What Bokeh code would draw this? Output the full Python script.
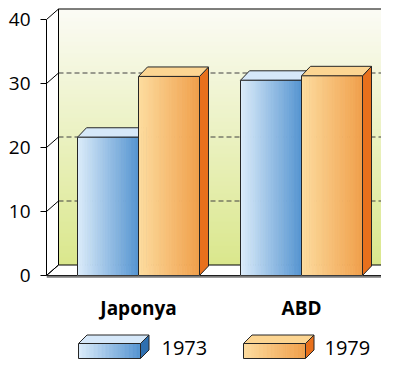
from bokeh.plotting import figure
from bokeh.models import Range1d, FixedTicker
from bokeh.core.properties import value
from bokeh.embed import file_html
from bokeh.resources import INLINE

# ---------------- data ----------------
categories = ["Japonya", "ABD"]
series = ["1973", "1979"]
values_1973 = [21.6, 30.5]
values_1979 = [31.1, 31.2]
y_ticks = [0, 10, 20, 30, 40]
y_top = 40

# ---------------- layout constants (pixels) ----------------
W, H = 381, 359
LEFT = 46          # left border holding the value axis
PX_X = 163.0       # px per category step
PX_Y = 6.4         # px per value unit
ZERO_PX = 275      # value 0, px from the frame top
CAT0_PX = 92       # first category centre, px from the frame left
WALL_DX, WALL_DY = 12, 10.5
BAR_DX, BAR_DY = 9, 9.5
BAR_W_PX = 61
LEG_SHIFT = 15     # legend moved up to fit the window

x_start = -CAT0_PX / PX_X
x_end = x_start + (W - LEFT) / PX_X
y_end = ZERO_PX / PX_Y
y_start = -(H - ZERO_PX) / PX_Y


def ux(px):
    return px / PX_X


def uy(px):
    return px / PX_Y


def fx(px):  # page px -> x
    return x_start + (px - LEFT) / PX_X


def fy(px):  # page px from top -> y
    return y_end - px / PX_Y


def hex2rgb(h):
    h = h.lstrip("#")
    return tuple(int(h[i:i + 2], 16) for i in (0, 2, 4))


def mix(c1, c2, t):
    a, b = hex2rgb(c1), hex2rgb(c2)
    return "#%02x%02x%02x" % tuple(int(round(a[i] + (b[i] - a[i]) * t)) for i in range(3))


p = figure(width=W, height=H, x_range=Range1d(x_start, x_end), y_range=Range1d(y_start, y_end),
           x_axis_type=None, toolbar_location=None, output_backend="svg",
           min_border_left=LEFT, min_border_right=0, min_border_top=0, min_border_bottom=0)
p.outline_line_color = None
p.grid.visible = False
p.background_fill_color = "white"

# ---------------- back wall with vertical gradient ----------------
wx0 = x_start + ux(WALL_DX)
wy0 = uy(WALL_DY)
floor_right = fx(385)
n = 64
step = y_top / n
wall_cols = [mix("#dae78c", "#fbfbf5", (i + 0.5) / n) for i in range(n)]
p.quad(left=[wx0] * n, right=[x_end + 1] * n,
       bottom=[wy0 + i * step for i in range(n)],
       top=[wy0 + (i + 1) * step for i in range(n)],
       fill_color=wall_cols, line_color=wall_cols, line_width=1)

# floor
p.patch([x_start, floor_right, floor_right + ux(WALL_DX), wx0],
        [0, 0, wy0, wy0], fill_color="white", line_color="black", line_width=1)

# dashed grid on back wall
grid_vals = [t for t in y_ticks if 0 < t < y_top]
p.segment(x0=[wx0] * len(grid_vals), y0=[t + wy0 for t in grid_vals],
          x1=[x_end + 1] * len(grid_vals), y1=[t + wy0 for t in grid_vals],
          line_color="#404040", line_width=1, line_dash="5 3")

# wall edges
p.line([wx0, wx0, x_end + 1], [wy0, y_top + wy0, y_top + wy0], line_color="black", line_width=1)

# diagonals from axis ticks to wall
p.segment(x0=[x_start] * len(y_ticks), y0=y_ticks,
          x1=[wx0] * len(y_ticks), y1=[t + wy0 for t in y_ticks],
          line_color="black", line_width=1)

# ---------------- bars ----------------
styles = {
    "1973": dict(left="#ddedfb", right="#5594d1", top="#d6e8f9", side="#2e6fb0"),
    "1979": dict(left="#fddda0", right="#f09f4b", top="#fcd592", side="#e8701c"),
}
bw = ux(BAR_W_PX)
bdx, bdy = ux(BAR_DX), uy(BAR_DY)
outline = "#262626"


def gradient_rect(x0, x1, y0, y1, c_left, c_right, nstrip):
    sw = (x1 - x0) / nstrip
    cols = [mix(c_left, c_right, (k + 0.5) / nstrip) for k in range(nstrip)]
    p.quad(left=[x0 + k * sw for k in range(nstrip)],
           right=[x0 + (k + 1) * sw for k in range(nstrip)],
           bottom=[y0] * nstrip, top=[y1] * nstrip,
           fill_color=cols, line_color=cols, line_width=0.8)
    p.quad(left=[x0], right=[x1], bottom=[y0], top=[y1], fill_color=None,
           line_color=outline, line_width=1)


def bar3d(x0, v, st):
    x1 = x0 + bw
    p.patch([x1, x1, x1 + bdx, x1 + bdx], [0, v, v + bdy, bdy],
            fill_color=st["side"], line_color=outline, line_width=1)
    p.patch([x0, x0 + bdx, x1 + bdx, x1], [v, v + bdy, v + bdy, v],
            fill_color=st["top"], line_color=outline, line_width=1)
    gradient_rect(x0, x1, 0, v, st["left"], st["right"], 24)


for i, cat in enumerate(categories):
    bar3d(i - bw, values_1973[i], styles["1973"])
    bar3d(i, values_1979[i], styles["1979"])

# floor front edge
p.line([x_start, floor_right], [-uy(1.2), -uy(1.2)], line_color="#7a7a7a", line_width=2)

# ---------------- category labels ----------------
p.text(x=list(range(len(categories))), y=[fy(307)] * len(categories), text=categories,
       text_font=value("Open Sans"), text_font_style="bold", text_font_size="19px",
       text_align="center", text_baseline="middle", text_color="black")

# ---------------- legend (3D keys) ----------------
key_left_px = [78, 243]
key_w = ux(62)
key_h = uy(15)
key_bottom = fy(373 - LEG_SHIFT)
kdx, kdy = ux(8.5), uy(8.5)
for s, lp in zip(series, key_left_px):
    st = styles[s]
    x0 = fx(lp)
    x1 = x0 + key_w
    y0, y1 = key_bottom, key_bottom + key_h
    p.patch([x1, x1, x1 + kdx, x1 + kdx], [y0, y1, y1 + kdy, y0 + kdy],
            fill_color=st["side"], line_color=outline, line_width=1)
    p.patch([x0, x0 + kdx, x1 + kdx, x1], [y1, y1 + kdy, y1 + kdy, y1],
            fill_color=st["top"], line_color=outline, line_width=1)
    gradient_rect(x0, x1, y0, y1, st["left"], st["right"], 16)

p.text(x=[fx(161), fx(324)], y=[fy(362 - LEG_SHIFT)] * 2, text=series,
       text_font=value("Open Sans"), text_font_size="20px",
       text_align="left", text_baseline="middle", text_color="black")

# ---------------- value axis ----------------
ax = p.yaxis[0]
ax.ticker = FixedTicker(ticks=y_ticks)
ax.bounds = (0, y_top)
ax.axis_line_color = "black"
ax.major_tick_out = 6
ax.major_tick_in = 0
ax.minor_tick_out = 0
ax.minor_tick_in = 0
ax.major_tick_line_color = "black"
ax.major_label_standoff = 10
ax.major_label_text_font = "Open Sans"
ax.major_label_text_font_size = "19px"
ax.major_label_text_color = "black"

open("out.html", "w").write(file_html(p, INLINE))
